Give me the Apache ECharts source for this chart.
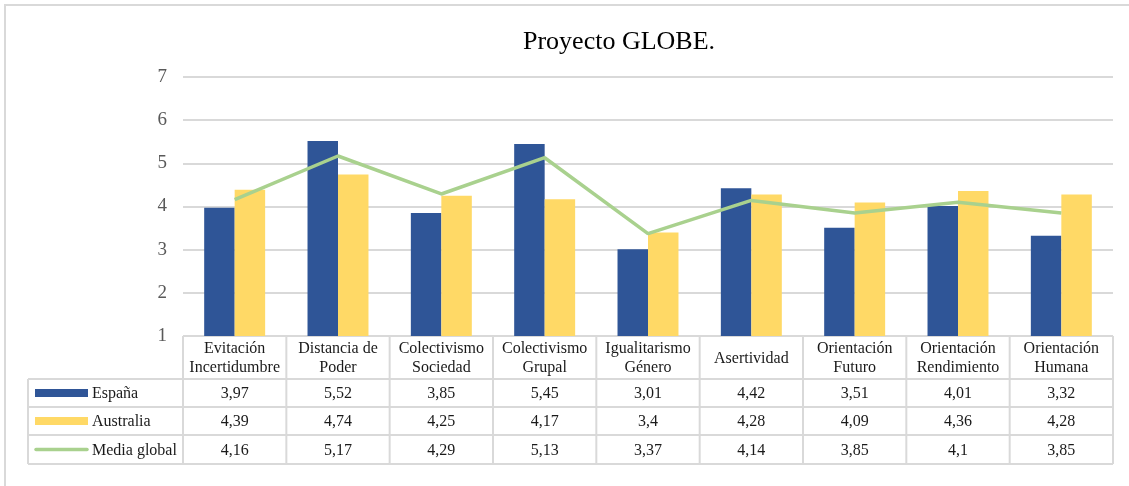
<!DOCTYPE html>
<html>
<head>
<meta charset="utf-8">
<title>Proyecto GLOBE</title>
<script src="https://cdn.jsdelivr.net/npm/echarts@6/dist/echarts.min.js"></script>
<style>
html,body{margin:0;padding:0;background:#fff;}
#main{width:1129px;height:486px;}
</style>
</head>
<body>
<div id="main"></div>
<script>
// categorias (cabecera de la tabla, dos lineas)
var categorias = ['Evitación\nIncertidumbre', 'Distancia de\nPoder', 'Colectivismo\nSociedad', 'Colectivismo\nGrupal',
    'Igualitarismo\nGénero', 'Asertividad', 'Orientación\nFuturo', 'Orientación\nRendimiento', 'Orientación\nHumana'];
var espana = [3.97, 5.52, 3.85, 5.45, 3.01, 4.42, 3.51, 4.01, 3.32];
var australia = [4.39, 4.74, 4.25, 4.17, 3.4, 4.28, 4.09, 4.36, 4.28];
var mediaGlobal = [4.16, 5.17, 4.29, 5.13, 3.37, 4.14, 3.85, 4.1, 3.85];
var ticksY = [1, 2, 3, 4, 5, 6, 7];

var COL_ES = '#2F5597', COL_AU = '#FFD966', COL_MG = '#A9D18E';
var SERIF = '"Liberation Serif","Times New Roman",serif';
var BORDE = '#d9d9d9';

var myChart = echarts.init(document.getElementById('main'));

var option = {
    animation: false,
    title: {
        text: 'Proyecto GLOBE.',
        left: 518,
        top: 24,
        textStyle: {fontFamily: SERIF, fontSize: 26, fontWeight: 'normal', color: '#000'}
    },
    grid: {left: 183, right: 16, top: 77, bottom: 150, containLabel: false},
    xAxis: {
        type: 'category',
        data: categorias,
        axisLine: {show: false},
        axisTick: {show: false},
        axisLabel: {show: false}
    },
    yAxis: {
        type: 'value',
        min: ticksY[0],
        max: ticksY[ticksY.length - 1],
        interval: 1,
        axisLine: {show: false},
        axisTick: {show: false},
        axisLabel: {fontFamily: SERIF, fontSize: 19, color: '#595959', margin: 16},
        splitLine: {lineStyle: {color: BORDE, width: 2}}
    },
    series: [
        {name: 'España', type: 'bar', data: espana, barGap: 0, barCategoryGap: '41%',
            itemStyle: {color: COL_ES}},
        {name: 'Australia', type: 'bar', data: australia, barGap: 0, barCategoryGap: '41%',
            itemStyle: {color: COL_AU}},
        {name: 'Media global', type: 'line', data: mediaGlobal, symbol: 'none',
            lineStyle: {color: COL_MG, width: 3.5}, z: 5}
    ]
};
myChart.setOption(option);

// tabla de datos debajo del grafico
function dibujarTabla(){
    var g = [];
    var x0 = myChart.convertToPixel({xAxisIndex: 0}, 0);
    var x1 = myChart.convertToPixel({xAxisIndex: 0}, 1);
    var banda = x1 - x0;
    var izq = x0 - banda / 2;
    var der = izq + banda * categorias.length;
    var yTop = myChart.convertToPixel({yAxisIndex: 0}, ticksY[0]);
    var filas = [yTop, yTop + 43, yTop + 71, yTop + 99, yTop + 128];
    var leyIzq = 28;
    var ls = {stroke: BORDE, lineWidth: 2};

    // marco exterior
    g.push({type: 'rect', shape: {x: 5, y: 5, width: 1140, height: 500}, style: {fill: 'none', stroke: BORDE, lineWidth: 2}, silent: true});

    // lineas horizontales
    g.push({type: 'line', shape: {x1: izq, y1: filas[0], x2: der, y2: filas[0]}, style: ls});
    for (var r = 1; r < filas.length; r++) {
        g.push({type: 'line', shape: {x1: leyIzq, y1: filas[r], x2: der, y2: filas[r]}, style: ls});
    }
    // lineas verticales
    g.push({type: 'line', shape: {x1: leyIzq, y1: filas[1], x2: leyIzq, y2: filas[4]}, style: ls});
    for (var c = 0; c <= categorias.length; c++) {
        var xc = izq + c * banda;
        g.push({type: 'line', shape: {x1: xc, y1: filas[0], x2: xc, y2: filas[4]}, style: ls});
    }

    var txt = {fontFamily: SERIF, fontSize: 16, fill: '#1a1a1a', align: 'center', verticalAlign: 'middle', lineHeight: 19};
    var series = [espana, australia, mediaGlobal];
    for (var i = 0; i < categorias.length; i++) {
        var cx = myChart.convertToPixel({xAxisIndex: 0}, i);
        g.push({type: 'text', x: cx, y: (filas[0] + filas[1]) / 2 + 1,
            style: echarts.util.extend({text: categorias[i]}, txt)});
        for (var s = 0; s < series.length; s++) {
            g.push({type: 'text', x: cx, y: (filas[s + 1] + filas[s + 2]) / 2 + 1,
                style: echarts.util.extend({text: String(series[s][i]).replace('.', ',')}, txt)});
        }
    }

    // leyenda dentro de la tabla
    var nombres = ['España', 'Australia', 'Media global'];
    for (var k = 0; k < 3; k++) {
        var yc = (filas[k + 1] + filas[k + 2]) / 2;
        if (k < 2) {
            g.push({type: 'rect', shape: {x: 35, y: yc - 4, width: 53, height: 8}, style: {fill: k == 0 ? COL_ES : COL_AU}});
        } else {
            g.push({type: 'line', shape: {x1: 36, y1: yc, x2: 87, y2: yc}, style: {stroke: COL_MG, lineWidth: 3.5, lineCap: 'round'}});
        }
        g.push({type: 'text', x: 92, y: yc + 1,
            style: {text: nombres[k], fontFamily: SERIF, fontSize: 16, fill: '#1a1a1a', align: 'left', verticalAlign: 'middle'}});
    }
    myChart.setOption({graphic: g});
}
dibujarTabla();
</script>
</body>
</html>
